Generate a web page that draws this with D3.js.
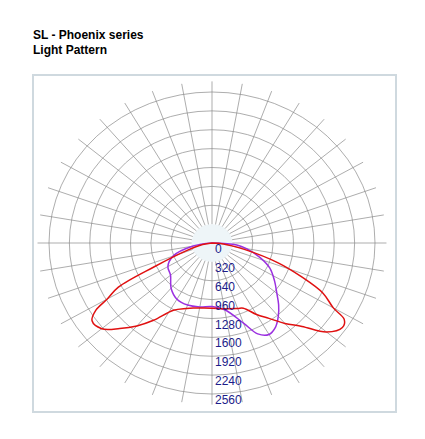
<!DOCTYPE html>
<html>
<head>
<meta charset="utf-8">
<script src="https://cdn.jsdelivr.net/npm/d3@7"></script>
<style>
  body { margin: 0; background: #fff; font-family: Arial, "Liberation Sans", sans-serif; }
</style>
</head>
<body>
<div id="chart"></div>
<script>
// chart data
const ringValues = [0, 320, 640, 960, 1280, 1600, 1920, 2240, 2560];
const spokeAngles = d3.range(0, 360, 10);

// C0-C180 plane (red), angle from nadir in degrees, candela
const redAngles = [-90, -80, -72, -66, -63, -60, -58, -55, -50, -45, -40, -35, -28, -20, -15, -10, 0, 10, 20, 24, 30, 35, 40, 45, 50, 55, 58, 60, 64, 68, 72, 78, 85, 90];
const redValues = [0, 150, 420, 1000, 1650, 1900, 2150, 2300, 2260, 2050, 1835, 1600, 1290, 1180, 1140, 1120, 1105, 1130, 1180, 1210, 1400, 1560, 1780, 2000, 2350, 2500, 2450, 2200, 1940, 1500, 1100, 520, 180, 0];

// C90-C270 plane (purple)
const purpleAngles = [-90, -80, -70, -60, -50, -40, -30, -20, -10, 0, 10, 20, 25, 30, 35, 40, 45, 50, 57, 65, 72, 80, 85, 90];
const purpleValues = [0, 300, 650, 800, 850, 1000, 1100, 1120, 1100, 1078, 1150, 1445, 1700, 1790, 1740, 1620, 1480, 1330, 1170, 1000, 790, 550, 390, 0];

const W = 425, H = 439;
const cx = 212, cy = 243;

const svg = d3.select('#chart').append('svg')
    .attr('width', W)
    .attr('height', H);

// titles
svg.append('text').attr('x', 33).attr('y', 39)
    .style('font-size', '12px').style('font-weight', 'bold').text('SL - Phoenix series');
svg.append('text').attr('x', 33).attr('y', 54)
    .style('font-size', '12px').style('font-weight', 'bold').text('Light Pattern');

// frame
svg.append('rect')
    .attr('x', 33).attr('y', 75).attr('width', 363).attr('height', 337)
    .attr('fill', 'none').attr('stroke', '#cfd9df').attr('stroke-width', 2);

// scales (plot is slightly wider than tall)
const rx = d3.scaleLinear().domain([0, 2560]).range([0, 163]);
const ry = d3.scaleLinear().domain([0, 2560]).range([0, 151]);

const g = svg.append('g').attr('transform', `translate(${cx},${cy})`);

// inner filled disc
g.append('ellipse')
    .attr('rx', rx(320)).attr('ry', ry(320))
    .attr('fill', '#eef5f8').attr('stroke', 'none');

// rings
g.selectAll('.ring')
    .data(ringValues.filter(d => d > 320))
    .enter().append('ellipse')
    .attr('class', 'ring')
    .attr('rx', d => rx(d)).attr('ry', d => ry(d))
    .attr('fill', 'none').attr('stroke', '#8a8a8a').attr('stroke-width', 0.7);

// spokes
const rad = a => a * Math.PI / 180;
g.selectAll('.spoke')
    .data(spokeAngles)
    .enter().append('line')
    .attr('class', 'spoke')
    .attr('x1', a => rx(320) * Math.sin(rad(a)))
    .attr('y1', a => ry(320) * Math.cos(rad(a)))
    .attr('x2', a => rx(2740) * Math.sin(rad(a)))
    .attr('y2', a => ry(2740) * Math.cos(rad(a)))
    .attr('stroke', '#8a8a8a').attr('stroke-width', 0.7);

// curves
const toPoints = (angles, values) => angles.map((a, i) => [
    rx(values[i]) * Math.sin(rad(a)),
    ry(values[i]) * Math.cos(rad(a))
]);
const line = d3.line().curve(d3.curveCatmullRomClosed.alpha(0.5));

g.append('path')
    .attr('d', line(toPoints(purpleAngles, purpleValues)))
    .attr('fill', 'none').attr('stroke', '#9b30e0').attr('stroke-width', 1.5);

g.append('path')
    .attr('d', line(toPoints(redAngles, redValues)))
    .attr('fill', 'none').attr('stroke', '#e01010').attr('stroke-width', 1.5);

// ring labels
g.selectAll('.label')
    .data(ringValues)
    .enter().append('text')
    .attr('class', 'label')
    .attr('x', 3)
    .attr('y', d => ry(d) + 10)
    .style('font-size', '12px')
    .style('fill', '#1c1c8a')
    .text(d => d);
</script>
</body>
</html>
